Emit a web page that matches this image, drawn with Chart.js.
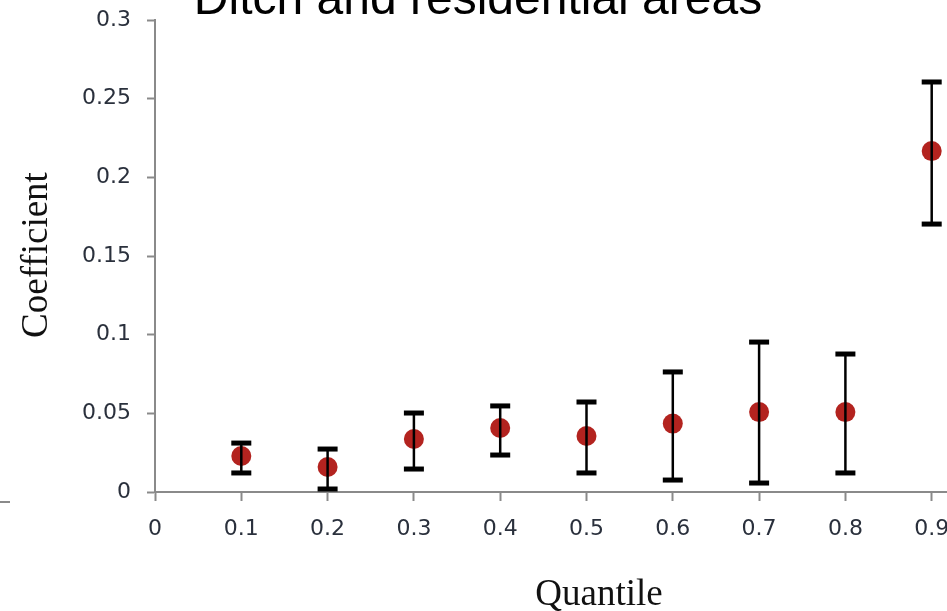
<!DOCTYPE html>
<html>
<head>
<meta charset="utf-8">
<script src="https://cdn.jsdelivr.net/npm/chart.js@4.4.1/dist/chart.umd.min.js"></script>
<style>
  html, body { margin: 0; padding: 0; background: #fff; overflow: hidden; }
  #wrap { position: relative; width: 1040px; height: 611px; }
</style>
</head>
<body>
<div id="wrap"><canvas id="chart" width="1040" height="611"></canvas></div>
<script>
// quantile regression estimates with their confidence bounds
const quantiles    = [0.1, 0.2, 0.3, 0.4, 0.5, 0.6, 0.7, 0.8, 0.9];
const coefficients = [0.0229, 0.0159, 0.0337, 0.0407, 0.0356, 0.0435, 0.0508, 0.0508, 0.2167];
const lowerBounds  = [0.0121, 0.0019, 0.0146, 0.0235, 0.0121, 0.0076, 0.0057, 0.0121, 0.1703];
const upperBounds  = [0.0311, 0.0273, 0.0502, 0.0547, 0.0572, 0.0763, 0.0953, 0.0877, 0.2606];

const xTickValues = [0, 0.1, 0.2, 0.3, 0.4, 0.5, 0.6, 0.7, 0.8, 0.9, 1];
const xTickLabels = ['0', '0.1', '0.2', '0.3', '0.4', '0.5', '0.6', '0.7', '0.8', '0.9', '1'];
const yTickValues = [0, 0.05, 0.1, 0.15, 0.2, 0.25, 0.3];
const yTickLabels = ['0', '0.05', '0.1', '0.15', '0.2', '0.25', '0.3'];

const chartTitle = 'Ditch and residential areas';
const xTitle = 'Quantile';
const yTitle = 'Coefficient';

const axisGray = '#8a8a8a';
const tickFont = { family: '"DejaVu Sans", Verdana, sans-serif', size: 22 };
const tickColor = '#2a303c';

// whiskers with flat caps, drawn over the points
const errorBars = {
  id: 'errorBars',
  afterDatasetsDraw(chart) {
    const { ctx, scales: { x, y } } = chart;
    ctx.save();
    ctx.strokeStyle = '#000';
    ctx.fillStyle = '#000';
    ctx.lineWidth = 2.5;
    quantiles.forEach((q, i) => {
      const px = x.getPixelForValue(q);
      const top = y.getPixelForValue(upperBounds[i]);
      const bot = y.getPixelForValue(lowerBounds[i]);
      ctx.beginPath();
      ctx.moveTo(px, top);
      ctx.lineTo(px, bot);
      ctx.stroke();
      ctx.fillRect(px - 10, top - 2.5, 20, 5);
      ctx.fillRect(px - 10, bot - 2.5, 20, 5);
    });
    ctx.restore();
  }
};

// headline and axis captions
const captions = {
  id: 'captions',
  afterDraw(chart) {
    const ctx = chart.ctx;
    ctx.save();
    ctx.fillStyle = '#000';
    ctx.textAlign = 'center';
    ctx.textBaseline = 'alphabetic';
    ctx.font = '48px "Liberation Sans", Arial, sans-serif';
    ctx.fillText(chartTitle, 478, 14);

    ctx.fillStyle = '#111';
    ctx.font = '37px "Liberation Serif", "Times New Roman", serif';
    ctx.fillText(xTitle, 599, 605);

    ctx.translate(47, 255);
    ctx.rotate(-Math.PI / 2);
    ctx.fillText(yTitle, 0, 0);
    ctx.restore();

    // stray tick at the left edge
    ctx.save();
    ctx.strokeStyle = axisGray;
    ctx.lineWidth = 2;
    ctx.beginPath();
    ctx.moveTo(0, 502);
    ctx.lineTo(10, 502);
    ctx.stroke();
    ctx.restore();
  }
};

new Chart(document.getElementById('chart'), {
  type: 'scatter',
  data: {
    datasets: [{
      data: quantiles.map((q, i) => ({ x: q, y: coefficients[i] })),
      backgroundColor: '#b3231f',
      borderWidth: 0,
      pointRadius: 10,
      pointHoverRadius: 10
    }]
  },
  options: {
    responsive: false,
    animation: false,
    devicePixelRatio: 1,
    layout: { padding: { left: 0, top: 20, right: 22, bottom: 0 } },
    plugins: { legend: { display: false }, tooltip: { enabled: false } },
    scales: {
      x: {
        type: 'linear',
        min: 0,
        max: 1,
        afterBuildTicks: s => { s.ticks = xTickValues.map(v => ({ value: v })); },
        afterFit: s => { s.height = 119; },
        grid: { drawOnChartArea: false, tickLength: 9, tickColor: axisGray, tickWidth: 2 },
        border: { color: axisGray, width: 2 },
        ticks: {
          font: tickFont,
          color: tickColor,
          padding: 15,
          maxRotation: 0,
          callback: (v, i) => xTickLabels[i]
        }
      },
      y: {
        min: 0,
        max: 0.3,
        afterBuildTicks: s => { s.ticks = yTickValues.map(v => ({ value: v })); },
        afterFit: s => {
          s.width = 155;
          // let the layout padding alone decide where the axis starts
          s.paddingTop = 0;
          s.paddingBottom = 0;
        },
        grid: { drawOnChartArea: false, tickLength: 8, tickColor: axisGray, tickWidth: 2 },
        border: { color: axisGray, width: 2 },
        ticks: {
          font: tickFont,
          color: tickColor,
          padding: 16,
          callback: (v, i) => yTickLabels[i]
        }
      }
    }
  },
  plugins: [errorBars, captions]
});
</script>
</body>
</html>
